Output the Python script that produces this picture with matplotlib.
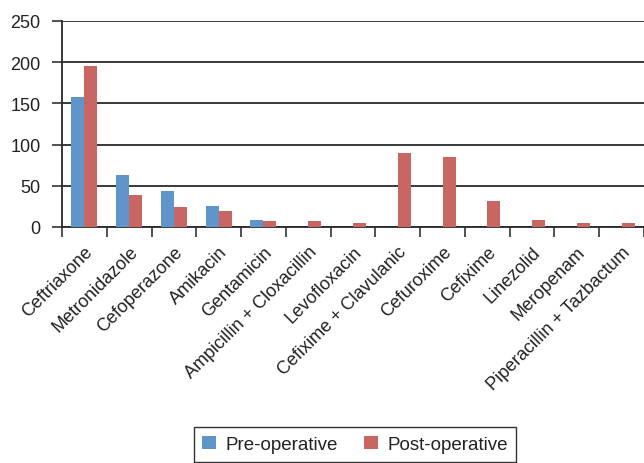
"""Antibiotic usage, pre- vs post-operative (grouped bars)."""

import matplotlib
matplotlib.use("Agg")
import matplotlib.pyplot as plt
import numpy as np


drugs = [
    "Ceftriaxone", "Metronidazole", "Cefoperazone", "Amikacin", "Gentamicin",
    "Ampicillin + Cloxacillin", "Levofloxacin", "Cefixime + Clavulanic",
    "Cefuroxime", "Cefixime", "Linezolid", "Meropenam", "Piperacillin + Tazbactum",
]
pre_op = [158, 63, 44, 26, 8, 0, 0, 0, 0, 0, 0, 0, 0]
post_op = [195, 39, 24, 19, 7, 7, 5, 90, 85, 32, 8, 5, 5]
y_ticks = [0, 50, 100, 150, 200, 250]

BLUE = "#5E95CB"
RED = "#C96661"

plt.rcParams["font.family"] = ["Liberation Sans", "DejaVu Sans"]

fig = plt.figure(figsize=(6.44, 4.64), dpi=100)
ax = fig.add_axes([62 / 644, 1 - 228 / 464, 582 / 644, 206 / 464])

x = np.arange(len(drugs))
w = 0.29
ax.bar(x - w / 2, pre_op, width=w, color=BLUE, label="Pre-operative", zorder=3)
ax.bar(x + w / 2, post_op, width=w, color=RED, label="Post-operative", zorder=3)

ax.set_xlim(-0.5, len(drugs) - 0.5)
ax.set_ylim(0, 250)
ax.set_yticks(y_ticks)
ax.tick_params(axis="y", length=7, width=1.2, color="#333333", labelsize=13,
               labelcolor="#222222", pad=8.5)
ax.yaxis.grid(True, color="#2a2a2a", linewidth=1.3, zorder=0)

ax.set_xticks(x)
ax.set_xticklabels(drugs, rotation=45, ha="right", rotation_mode="anchor",
                   fontsize=13, color="#222222")
ax.tick_params(axis="x", length=0, pad=11.5)
ax.set_xticks(np.arange(len(drugs) + 1) - 0.5, minor=True)
ax.tick_params(axis="x", which="minor", length=7, width=1.2, color="#333333")

for side in ("top", "right"):
    ax.spines[side].set_visible(False)
for side in ("left", "bottom"):
    ax.spines[side].set_color("#2a2a2a")
    ax.spines[side].set_linewidth(1.3)

leg = fig.legend(loc="lower center", bbox_to_anchor=(355 / 644, 0.003), ncol=2,
                 frameon=True, fancybox=False, fontsize=13.5, handlelength=0.75,
                 handleheight=0.75, handletextpad=0.5, columnspacing=1.4,
                 borderpad=0.45, borderaxespad=0)
leg.get_frame().set_edgecolor("black")
leg.get_frame().set_linewidth(1.0)
for t in leg.get_texts():
    t.set_color("#222222")

fig.savefig("out.png", dpi=100)
